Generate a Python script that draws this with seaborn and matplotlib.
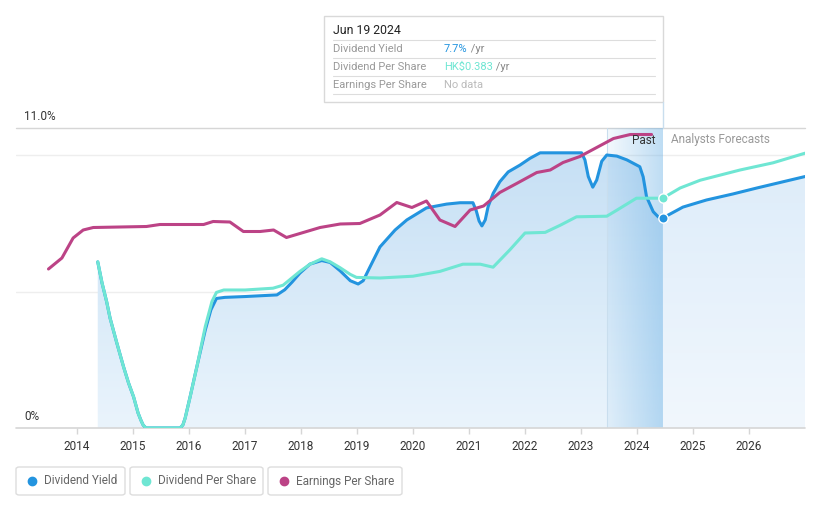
import numpy as np
import pandas as pd
import matplotlib
matplotlib.use("Agg")
import matplotlib.pyplot as plt
from matplotlib.colors import LinearSegmentedColormap, to_rgb
from matplotlib.patches import Rectangle, FancyBboxPatch
from matplotlib.lines import Line2D
import seaborn as sns

# dividend yield (%) - history
dy_year = [2014.37, 2014.446, 2014.53, 2014.59, 2014.71, 2014.83, 2014.92, 2015.01, 2015.09,
           2015.14, 2015.18, 2015.23, 2015.84, 2015.89, 2015.93, 2016.02, 2016.14, 2016.29,
           2016.39, 2016.49, 2016.64, 2017.0, 2017.57, 2017.71, 2017.84, 2017.98, 2018.16,
           2018.37, 2018.52, 2018.70, 2018.88, 2019.02, 2019.11, 2019.23, 2019.41, 2019.68,
           2019.89, 2020.24, 2020.60, 2020.84, 2021.07, 2021.13, 2021.18, 2021.23, 2021.29,
           2021.34, 2021.43, 2021.55, 2021.70, 2021.91, 2022.09, 2022.27, 2022.63, 2023.01,
           2023.07, 2023.13, 2023.21, 2023.28, 2023.37, 2023.46, 2023.64, 2023.82, 2024.05,
           2024.11, 2024.17, 2024.29, 2024.38, 2024.46]
dy_vals = [6.09, 5.32, 4.62, 4.03, 3.12, 2.25, 1.65, 1.14, 0.55,
           0.29, 0.11, 0.0, 0.0, 0.11, 0.36, 1.15, 2.25, 3.59,
           4.33, 4.75, 4.79, 4.82, 4.88, 5.07, 5.35, 5.68, 6.01,
           6.14, 6.07, 5.76, 5.40, 5.28, 5.40, 5.90, 6.64, 7.26,
           7.63, 8.07, 8.21, 8.26, 8.26, 7.96, 7.59, 7.41, 7.63,
           8.11, 8.60, 9.03, 9.39, 9.64, 9.89, 10.09, 10.09, 10.09,
           9.83, 9.22, 8.83, 9.09, 9.78, 10.01, 9.97, 9.83, 9.58,
           9.21, 8.48, 7.93, 7.74, 7.70]
# dividend yield (%) - analyst forecast
dyf_year = [2024.46, 2024.82, 2025.24, 2025.71, 2026.14, 2026.55, 2027.0]
dyf_vals = [7.70, 8.10, 8.36, 8.58, 8.80, 9.00, 9.22]

# dividend per share (HK$)
dps_year = [2014.37, 2014.446, 2014.53, 2014.59, 2014.71, 2014.83, 2014.92, 2015.01, 2015.09,
            2015.14, 2015.18, 2015.23, 2015.84, 2015.89, 2015.93, 2016.02, 2016.14, 2016.29,
            2016.41, 2016.49, 2016.62, 2017.0, 2017.5, 2017.68, 2017.98, 2018.16, 2018.37,
            2018.52, 2018.70, 2018.88, 2018.99, 2019.41, 2020.0, 2020.48, 2020.89, 2021.20,
            2021.43, 2021.73, 2022.0, 2022.36, 2022.63, 2022.92, 2023.46, 2023.64, 2023.99,
            2024.46]
dps_vals = [0.277, 0.242, 0.210, 0.183, 0.142, 0.102, 0.075, 0.052, 0.025,
            0.013, 0.005, 0.0, 0.0, 0.005, 0.016, 0.052, 0.102, 0.169,
            0.211, 0.226, 0.230, 0.230, 0.233, 0.238, 0.261, 0.273, 0.282,
            0.277, 0.267, 0.256, 0.251, 0.250, 0.253, 0.261, 0.273, 0.273,
            0.268, 0.297, 0.325, 0.326, 0.338, 0.352, 0.353, 0.363, 0.383,
            0.383]
dpsf_year = [2024.46, 2024.77, 2025.13, 2025.84, 2026.43, 2027.0]
dpsf_vals = [0.383, 0.400, 0.413, 0.430, 0.442, 0.458]

# earnings per share (HK$)
eps_year = [2013.49, 2013.73, 2013.93, 2014.11, 2014.29, 2015.24, 2015.48, 2016.26, 2016.43,
            2016.73, 2016.97, 2017.27, 2017.51, 2017.74, 2017.98, 2018.34, 2018.70, 2019.05,
            2019.41, 2019.71, 2019.98, 2020.24, 2020.48, 2020.75, 2021.02, 2021.26, 2021.55,
            2021.85, 2022.21, 2022.45, 2022.68, 2022.98, 2023.28, 2023.58, 2023.88, 2024.26]
eps_vals = [0.318, 0.340, 0.380, 0.396, 0.401, 0.403, 0.407, 0.407, 0.413,
            0.412, 0.393, 0.393, 0.396, 0.381, 0.389, 0.401, 0.408, 0.409,
            0.426, 0.451, 0.441, 0.454, 0.416, 0.403, 0.436, 0.444, 0.471,
            0.489, 0.511, 0.516, 0.531, 0.543, 0.561, 0.579, 0.587, 0.587]

years = list(range(2014, 2027))
today = 2024.46
past_start = 2023.46

c_dy = "#2394DF"
c_dps = "#6FE6D3"
c_eps = "#BC4386"

W, H = 821, 508
sns.set_style("white")
plt.rcParams['font.family'] = ['Roboto', 'DejaVu Sans']

fig = plt.figure(figsize=(W / 100, H / 100), dpi=100)
ax = fig.add_axes([16 / W, 80 / H, 789 / W, 300 / H])
ax2 = ax.twinx()
ax3 = ax.twinx()

x0, x1 = 2012.91, 2027.0

# gradient fill under yield (history + forecast)
fill_p = ax.fill_between(dy_year, dy_vals, 0, color="none", lw=0)
cm_p = LinearSegmentedColormap.from_list("p", ["#eaf4fc", "#c3def4"])
im = ax.imshow(np.linspace(0, 1, 256).reshape(-1, 1), extent=[x0, x1, 0, 11],
               origin="lower", aspect="auto", cmap=cm_p, zorder=1)
im.set_clip_path(fill_p.get_paths()[0], transform=ax.transData)

fill_f = ax.fill_between(dyf_year, dyf_vals, 0, color="none", lw=0)
cm_f = LinearSegmentedColormap.from_list("f", ["#f1f7fd", "#dbebf9"])
im2 = ax.imshow(np.linspace(0, 1, 256).reshape(-1, 1), extent=[x0, x1, 0, 11],
                origin="lower", aspect="auto", cmap=cm_f, zorder=1)
im2.set_clip_path(fill_f.get_paths()[0], transform=ax.transData)

# past-year highlight
rgb = to_rgb("#6fb3e6")
band = np.zeros((1, 100, 4))
band[0, :, :3] = rgb
band[0, :, 3] = np.linspace(0.08, 0.45, 100)
ax.imshow(band, extent=[past_start, today, 0, 11], aspect="auto", zorder=2)
ax.axvline(past_start, color="#c9deee", lw=0.8, zorder=2)

# grid & frame
for gy in (5, 10):
    ax.axhline(gy, color="#eeeeee", lw=1, zorder=0)
ax.axhline(11, color="#d6d6d6", lw=1, zorder=0, clip_on=False)
ax.axhline(0, color="#d6d6d6", lw=1.2, zorder=3, clip_on=False)

# lines
kw = dict(lw=2.2, zorder=4)
sns.lineplot(x=dy_year, y=dy_vals, ax=ax, color=c_dy, **kw)
sns.lineplot(x=dyf_year, y=dyf_vals, ax=ax, color=c_dy, **kw)
ax.scatter([today], [dyf_vals[0]], s=45, color=c_dy, edgecolor="white", lw=1, zorder=6)

sns.lineplot(x=dps_year, y=dps_vals, ax=ax2, color=c_dps, **kw)
sns.lineplot(x=dpsf_year, y=dpsf_vals, ax=ax2, color=c_dps, **kw)
ax2.scatter([today], [dpsf_vals[0]], s=45, color=c_dps, edgecolor="white", lw=1, zorder=6)

sns.lineplot(x=eps_year, y=eps_vals, ax=ax3, color=c_eps, **kw)

ax.set_ylim(0, 11)
ax2.set_ylim(0, 0.5)
ax3.set_ylim(0, 0.6)
for a in (ax, ax2, ax3):
    a.set_xlim(x0, x1)
    for s in a.spines.values():
        s.set_visible(False)
    a.set_yticks([])
    a.set_ylabel("")
ax2.set_xticks([])
ax3.set_xticks([])

ax.set_xticks(years)
ax.set_xticklabels([str(y) for y in years])
ax.tick_params(axis="x", length=4, width=1, color="#d6d6d6", labelcolor="#333333",
               labelsize=8.5, pad=5, bottom=True)


def fx(px):
    return px / W


def fy(py):
    return 1 - py / H


fig.text(fx(24), fy(116), "11.0%", fontsize=8.5, color="#333333", va="center")
fig.text(fx(24), fy(416), "0%", fontsize=8.5, color="#333333", va="center")

fig.text(fx(655), fy(140), "Past", fontsize=8.5, color="#333333", ha="right", va="center")
fig.text(fx(671), fy(140), "Analysts Forecasts", fontsize=8.5, color="#999999", va="center")

# tooltip
fig.add_artist(Line2D([fx(663), fx(663)], [fy(102), fy(128)], color="#c9deee", lw=1))
fig.add_artist(Rectangle((fx(324), fy(102)), fx(339), 86 / H, facecolor="white",
                         edgecolor="#d9d9d9", lw=1, transform=fig.transFigure))
fig.text(fx(333), fy(31), "Jun 19 2024", fontsize=8.8, color="#222222", va="center")
rows = [("Dividend Yield", "7.7%", c_dy, " /yr"),
        ("Dividend Per Share", "HK$0.383", c_dps, " /yr"),
        ("Earnings Per Share", "No data", "#bbbbbb", "")]
for i, (lab, val, col, suf) in enumerate(rows):
    yy = 49 + i * 18
    fig.add_artist(Line2D([fx(333), fx(655)], [fy(yy - 9), fy(yy - 9)], color="#dddddd", lw=0.8))
    fig.text(fx(333), fy(yy), lab, fontsize=8, color="#999999", va="center")
    t = fig.text(fx(444), fy(yy), val, fontsize=8, color=col, va="center")
    if suf:
        fig.canvas.draw()
        bb = t.get_window_extent()
        fig.text(bb.x1 / W, fy(yy), suf, fontsize=8, color="#888888", va="center")
fig.add_artist(Line2D([fx(333), fx(655)], [fy(94), fy(94)], color="#dddddd", lw=0.8))

# legend
legend = [("Dividend Yield", c_dy, 16, 125), ("Dividend Per Share", c_dps, 130, 263),
          ("Earnings Per Share", c_eps, 268, 402)]
for lab, col, l, r in legend:
    fig.add_artist(FancyBboxPatch((fx(l), fy(495)), fx(r - l), 28 / H,
                                  boxstyle="round,pad=0,rounding_size=0.004",
                                  facecolor="white", edgecolor="#dddddd", lw=1,
                                  transform=fig.transFigure))
    fig.add_artist(Line2D([fx(l + 16)], [fy(481)], marker="o", markersize=6,
                          color=col, lw=0))
    fig.text(fx(l + 28), fy(481), lab, fontsize=8.5, color="#666666", va="center")

fig.savefig("out.png", dpi=100)
